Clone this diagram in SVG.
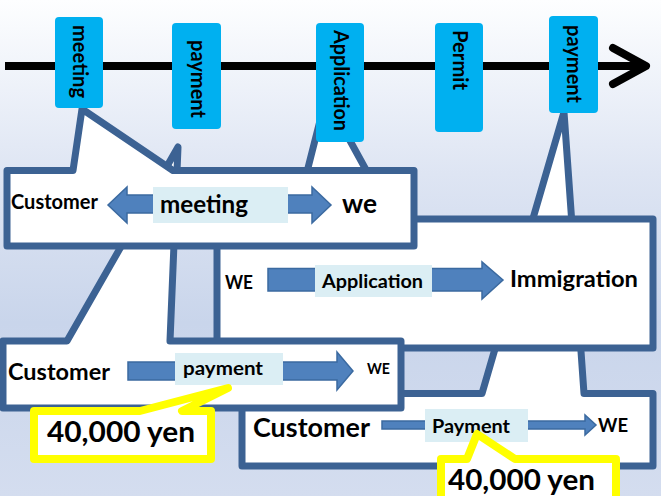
<svg xmlns="http://www.w3.org/2000/svg" width="661" height="496" viewBox="0 0 661 496">
<defs>
<linearGradient id="bg" x1="0" y1="0" x2="0" y2="1">
<stop offset="0" stop-color="#fdfeff"/>
<stop offset="0.35" stop-color="#dee5f3"/>
<stop offset="0.65" stop-color="#c9d5eb"/>
<stop offset="1" stop-color="#d4ddef"/>
</linearGradient>
<style>
.co{fill:#fff;stroke:#3c6293;stroke-width:7;stroke-linejoin:round}
.ye{fill:#fff;stroke:#ffff00;stroke-width:8;stroke-linejoin:round}
.tb{fill:#00b0f0}
.lb{fill:#dbeef4}
.ar{fill:#4f81bd;stroke:#3b6aa0;stroke-width:1.5;stroke-linejoin:miter}
text{font-family:Lato,"Open Sans","Liberation Sans",sans-serif;font-weight:bold;fill:#000}
.tl{fill:none;stroke:#000;stroke-width:8}
</style>
</defs>
<rect x="0" y="0" width="661" height="496" fill="url(#bg)"/>

<g id="connectors">
<line class="tl" x1="5" y1="66" x2="641" y2="66"/>
<polyline class="tl" points="613,48 646,66 613,84" stroke-width="9" stroke-linecap="round" stroke-linejoin="round"/>
</g>

<g id="callout-payment2">
<path class="co" d="M242,393.5 L482,393.5 L564,112 L584,393.5 L653,393.5 L653,466 L242,466 Z"/>
<path class="ar" d="M382,421 L585,421 L585,415 L596,425 L585,435 L585,429 L382,429 Z"/>
<rect class="lb" x="425" y="409" width="103" height="33"/>
<text x="253" y="437" font-size="26" textLength="117" lengthAdjust="spacingAndGlyphs">Customer</text>
<text x="432" y="433" font-size="19" textLength="78" lengthAdjust="spacingAndGlyphs">Payment</text>
<text x="598" y="432" font-size="18" textLength="30" lengthAdjust="spacingAndGlyphs">WE</text>
</g>

<g id="callout-application">
<path class="co" d="M217,219 L295,219 L326,97 L393,219 L653,219 L653,348 L217,348 Z"/>
<path class="ar" d="M268,268.5 L482,268.5 L482,262 L503,280 L482,299 L482,291 L268,291 Z"/>
<rect class="lb" x="315" y="265" width="117" height="32"/>
<text x="225" y="289" font-size="18.5" textLength="28" lengthAdjust="spacingAndGlyphs">WE</text>
<text x="322" y="288" font-size="19.5" textLength="101" lengthAdjust="spacingAndGlyphs">Application</text>
<text x="510" y="287" font-size="22" textLength="128" lengthAdjust="spacingAndGlyphs">Immigration</text>
</g>

<g id="callout-payment">
<path class="co" d="M3,341 L67,341 L178,147 L170,341 L401,341 L401,408 L3,408 Z"/>
<path class="ar" d="M128,362 L337,362 L337,352 L353,371 L337,390 L337,380 L128,380 Z"/>
<rect class="lb" x="175" y="353" width="108" height="32"/>
<text x="8" y="380" font-size="23" textLength="102" lengthAdjust="spacingAndGlyphs">Customer</text>
<text x="183" y="375" font-size="19" textLength="80" lengthAdjust="spacingAndGlyphs">payment</text>
<text x="367" y="374" font-size="15" textLength="23" lengthAdjust="spacingAndGlyphs">WE</text>
</g>

<g id="callout-meeting">
<path class="co" d="M7,170.5 L73,170.5 L82,109 L173,170.5 L414,170.5 L414,246 L7,246 Z"/>
<path class="ar" d="M108,205 L127,187 L127,195 L312,195 L312,187 L331,205 L312,223 L312,213 L127,213 L127,223 Z"/>
<rect class="lb" x="153" y="187" width="135" height="36"/>
<text x="11" y="209" font-size="20" textLength="87" lengthAdjust="spacingAndGlyphs">Customer</text>
<text x="160" y="213" font-size="24" textLength="88" lengthAdjust="spacingAndGlyphs">meeting</text>
<text x="342" y="213" font-size="27" textLength="35" lengthAdjust="spacingAndGlyphs">we</text>
</g>

<g id="note-fee1">
<path class="ye" d="M34,411 L140,411 L228,388 L182,411 L211,411 L211,459 L34,459 Z"/>
<text x="47" y="442" font-size="29" textLength="148" lengthAdjust="spacingAndGlyphs">40,000 yen</text>
</g>

<g id="note-fee2">
<path class="ye" d="M441,459 L467,459 L477,434 L515,459 L616,459 L616,506 L441,506 Z"/>
<text x="448" y="490" font-size="29" textLength="147" lengthAdjust="spacingAndGlyphs">40,000 yen</text>
</g>

<g id="step-meeting">
<rect class="tb" x="55" y="17" width="48" height="91" rx="4"/>
<text transform="translate(73,25) rotate(90)" font-size="20" textLength="73" lengthAdjust="spacingAndGlyphs">meeting</text>
</g>
<g id="step-payment1">
<rect class="tb" x="172" y="23" width="49" height="106" rx="4"/>
<text transform="translate(191,40) rotate(90)" font-size="20" textLength="78" lengthAdjust="spacingAndGlyphs">payment</text>
</g>
<g id="step-application">
<rect class="tb" x="316" y="23" width="48" height="119" rx="4"/>
<text transform="translate(334,30) rotate(90)" font-size="20" textLength="101" lengthAdjust="spacingAndGlyphs">Application</text>
</g>
<g id="step-permit">
<rect class="tb" x="435" y="23" width="48" height="109" rx="4"/>
<text transform="translate(453,30) rotate(90)" font-size="20" textLength="60" lengthAdjust="spacingAndGlyphs">Permit</text>
</g>
<g id="step-payment2">
<rect class="tb" x="549" y="16" width="49" height="97" rx="4"/>
<text transform="translate(567,25) rotate(90)" font-size="20" textLength="78" lengthAdjust="spacingAndGlyphs">payment</text>
</g>
</svg>
